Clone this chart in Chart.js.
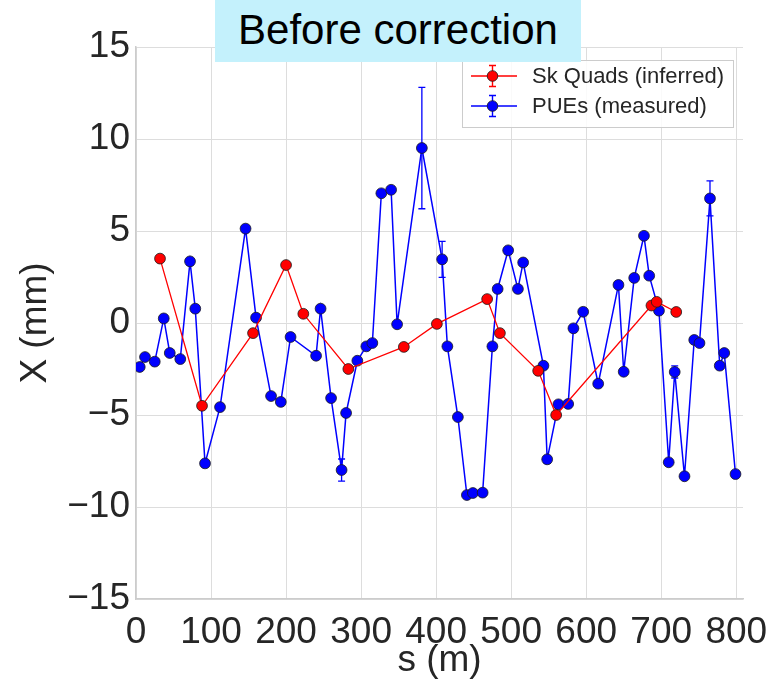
<!DOCTYPE html>
<html>
<head>
<meta charset="utf-8">
<script src="https://cdn.jsdelivr.net/npm/chart.js@4.4.1/dist/chart.umd.min.js"></script>
<style>
  html, body { margin: 0; padding: 0; background: #ffffff; }
  #wrap { position: relative; width: 771px; height: 683px; }
  #title {
    position: absolute; left: 215px; top: 0px; width: 366px; height: 62px;
    background: #c4f1fc; color: #000; font-family: "Liberation Sans", Arial, sans-serif;
    font-size: 42px; line-height: 60px; text-align: center; z-index: 2;
  }
</style>
</head>
<body>
<div id="wrap">
  <canvas id="c" width="771" height="683"></canvas>
  <div id="title">Before correction</div>
</div>
<script>
// ---- data ----
const quadS = [32, 88, 156, 200, 223, 283, 357, 401, 468, 485, 536, 560, 687, 694, 720];
const quadX = [3.5, -4.5, -0.55, 3.15, 0.5, -2.5, -1.3, -0.05, 1.3, -0.55, -2.6, -5.0, 0.95, 1.15, 0.6];
const quadErr = [0, 0, 0, 0, 0, 0, 0, 0, 0, 0, 0, 0, 0, 0, 0];

const pueS = [5, 12, 25, 37, 45, 59, 72, 79, 92, 112, 146, 160, 180, 193, 206, 240, 246, 260, 274, 280,
              295, 307, 315, 327, 340, 348, 381, 408, 415, 429, 441, 449, 462, 475, 482, 496, 509, 516, 543, 548,
              563, 576, 583, 596, 616, 643, 650, 664, 677, 684, 697, 710, 718, 731, 744, 751, 765, 778, 784, 799];
const pueX = [-2.39, -1.85, -2.1, 0.25, -1.63, -1.96, 3.35, 0.78, -7.63, -4.57, 5.13, 0.29, -3.97, -4.29, -0.76, -1.78, 0.78, -4.08, -7.99, -4.89,
              -2.05, -1.27, -1.09, 7.05, 7.24, -0.07, 9.51, 3.46, -1.27, -5.11, -9.35, -9.24, -9.22, -1.27, 1.85, 3.95, 1.85, 3.29, -2.32, -7.41,
              -4.42, -4.4, -0.29, 0.61, -3.3, 2.07, -2.65, 2.45, 4.74, 2.57, 0.67, -7.57, -2.66, -8.33, -0.92, -1.09, 6.77, -2.32, -1.63, -8.21];
const pueErr = [0, 0, 0, 0, 0, 0, 0, 0, 0, 0, 0, 0, 0, 0, 0, 0, 0, 0, 0.6, 0,
                0, 0, 0, 0, 0, 0, 3.3, 0.98, 0, 0, 0, 0, 0, 0, 0, 0, 0, 0, 0, 0,
                0, 0, 0, 0.2, 0, 0, 0, 0, 0, 0, 0, 0, 0.33, 0, 0, 0, 0.95, 0, 0, 0];

const xTicks = [0, 100, 200, 300, 400, 500, 600, 700, 800];
const yTicks = [-15, -10, -5, 0, 5, 10, 15];
const seriesNames = ['Sk Quads (inferred)', 'PUEs (measured)'];

const FONT = '"Liberation Sans", Arial, sans-serif';
const TXT = '#262626';

function pts(xs, ys) { return xs.map((x, i) => ({ x: x, y: ys[i] })); }

const errorBars = {
  id: 'errorBars',
  beforeDatasetsDraw(chart) {
    const ctx = chart.ctx;
    const xs = chart.scales.x, ys = chart.scales.y;
    const sets = [[quadS, quadX, quadErr, '#ff0000'], [pueS, pueX, pueErr, '#0000ff']];
    ctx.save();
    sets.forEach(([s, v, e, col]) => {
      ctx.strokeStyle = col; ctx.lineWidth = 1.3;
      s.forEach((sv, i) => {
        if (!e[i]) return;
        const px = xs.getPixelForValue(sv);
        const y1 = ys.getPixelForValue(v[i] + e[i]);
        const y2 = ys.getPixelForValue(v[i] - e[i]);
        ctx.beginPath();
        ctx.moveTo(px, y1); ctx.lineTo(px, y2);
        ctx.moveTo(px - 3.5, y1); ctx.lineTo(px + 3.5, y1);
        ctx.moveTo(px - 3.5, y2); ctx.lineTo(px + 3.5, y2);
        ctx.stroke();
      });
    });
    ctx.restore();
  }
};

const legendBox = {
  id: 'legendBox',
  afterDraw(chart) {
    const ctx = chart.ctx;
    const bx = 462.5, by = 60.5, bw = 271, bh = 67;
    ctx.save();
    ctx.fillStyle = 'rgba(255,255,255,0.85)';
    ctx.fillRect(bx, by, bw, bh);
    ctx.strokeStyle = '#cccccc'; ctx.lineWidth = 1;
    ctx.strokeRect(bx, by, bw, bh);
    const rows = [[76, '#ff0000'], [106, '#0000ff']];
    rows.forEach(([ry, col], i) => {
      ctx.strokeStyle = col; ctx.lineWidth = 1.4;
      ctx.beginPath();
      ctx.moveTo(471, ry); ctx.lineTo(517, ry);
      ctx.moveTo(492.5, ry - 10.5); ctx.lineTo(492.5, ry + 10.5);
      ctx.moveTo(489, ry - 10.5); ctx.lineTo(496, ry - 10.5);
      ctx.moveTo(489, ry + 10.5); ctx.lineTo(496, ry + 10.5);
      ctx.stroke();
      ctx.beginPath();
      ctx.arc(492.5, ry, 5.3, 0, Math.PI * 2);
      ctx.fillStyle = col; ctx.fill();
      ctx.strokeStyle = '#1a1a1a'; ctx.lineWidth = 0.8; ctx.stroke();
      ctx.fillStyle = TXT;
      ctx.font = '22px ' + FONT;
      ctx.textBaseline = 'middle'; ctx.textAlign = 'left';
      ctx.fillText(seriesNames[i], 532, ry + 1);
    });
    ctx.restore();
  }
};

new Chart(document.getElementById('c'), {
  type: 'line',
  data: {
    datasets: [
      {
        label: seriesNames[0],
        data: pts(quadS, quadX),
        borderColor: '#ff0000', borderWidth: 1.3,
        pointBackgroundColor: '#ff0000', pointBorderColor: '#1a1a1a', pointBorderWidth: 0.8,
        pointRadius: 5.4, tension: 0, fill: false
      },
      {
        label: seriesNames[1],
        data: pts(pueS, pueX),
        borderColor: '#0000ff', borderWidth: 1.5,
        pointBackgroundColor: '#0000ff', pointBorderColor: '#1a1a1a', pointBorderWidth: 0.8,
        pointRadius: 5.4, tension: 0, fill: false
      }
    ]
  },
  options: {
    responsive: false, animation: false, devicePixelRatio: 1,
    layout: { padding: { left: 0, top: 47, right: 28, bottom: 0 } },
    plugins: { legend: { display: false }, title: { display: false }, tooltip: { enabled: false } },
    scales: {
      x: {
        type: 'linear', min: 0, max: 809,
        afterBuildTicks: (s) => { s.ticks = xTicks.map(v => ({ value: v })); },
        afterFit: (s) => { s.height = 84; s.paddingLeft = 0; s.paddingRight = 0; },
        grid: { color: '#dddddd', lineWidth: 1, drawTicks: false },
        border: { color: '#cccccc', width: 1.5 },
        ticks: { autoSkip: false, maxRotation: 0, padding: 12, color: TXT, font: { family: FONT, size: 37 } },
        title: { display: true, text: 's (m)', color: TXT, font: { family: FONT, size: 37 }, padding: { top: -1, bottom: 0 } }
      },
      y: {
        type: 'linear', min: -15, max: 15,
        afterBuildTicks: (s) => { s.ticks = yTicks.map(v => ({ value: v })); },
        afterFit: (s) => { s.width = 136; s.paddingTop = 0; s.paddingBottom = 0; },
        grid: { color: '#dddddd', lineWidth: 1, drawTicks: false },
        border: { color: '#cccccc', width: 1.5 },
        ticks: { padding: 6, color: TXT, font: { family: FONT, size: 37 },
                 callback: (v) => (v < 0 ? '\u2212' + Math.abs(v) : String(v)) },
        title: { display: true, text: 'X (mm)', color: TXT, font: { family: FONT, size: 37 }, padding: { top: 14, bottom: 0 } }
      }
    }
  },
  plugins: [errorBars, legendBox]
});
</script>
</body>
</html>
